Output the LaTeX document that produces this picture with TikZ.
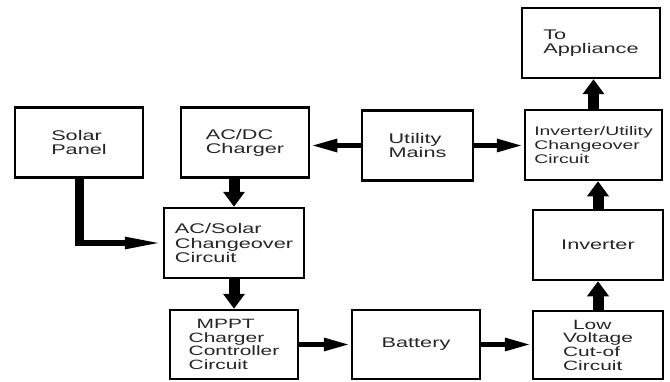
\documentclass[tikz,border=0pt]{standalone}
\usepackage{fontspec}
\setmainfont[FakeStretch=1.55]{Liberation Sans}
\usepackage{tikz}
\usetikzlibrary{arrows.meta,calc}
\tikzset{
  block/.style={
    draw,
    line width=2.5pt,
    inner sep=0pt,
    minimum height=70pt,
    align=left,
    font=\fontsize{14}{14.2}\selectfont,
    text=black!85
  },
  varrow/.style={
    line width=11pt,
    -{Triangle[width=21pt,length=15pt]}
  },
  harrow/.style={
    line width=5.5pt,
    -{Triangle[width=12pt,length=27pt]}
  },
  every picture/.style={
    x=1pt,
    y=1pt
  }
}

\begin{document}
\begin{tikzpicture}
    \useasboundingbox (0,0) rectangle (670,381);
    % top row (y measured from the bottom)
    \node[block, minimum width=128pt] (solar) at (79,238.5) {Solar\\Panel};
    \node[block, minimum width=128pt] (acdc) at (245,238.5) {AC/DC\\Charger};
    \node[block, minimum width=111pt] (mains) at (417.5,235.5) {Utility\\Mains};
    \node[block, minimum width=137pt, font=\fontsize{12.5}{14.2}\selectfont] (invutil) at (593.5,236) {Inverter/Utility\\Changeover\\Circuit};
    \node[block, minimum width=138pt] (appl) at (591,338) {To\\Appliance};
    % middle
    \node[block, minimum width=140pt] (acsolar) at (234,138) {AC/Solar\\Changeover\\Circuit};
    \node[block, minimum width=130pt] (inverter) at (598,136) {Inverter};
    % bottom row
    \node[block, minimum width=128pt, minimum height=69pt, font=\fontsize{13.5}{13.7}\selectfont] (mppt) at (234,36.5) {\hspace*{8pt}MPPT\\Charger\\Controller\\Circuit};
    \node[block, minimum width=128pt, minimum height=69pt] (battery) at (416,36.5) {Battery};
    \node[block, minimum width=130pt, minimum height=68pt, font=\fontsize{13.5}{13.7}\selectfont] (lowv) at (598,36) {\hspace*{10pt}Low\\Voltage\\Cut-of\\Circuit};

    \coordinate (bend) at (solar.south |- acsolar.west);
    \draw[line width=9pt] (solar.south) -- ([yshift=-2.75pt]bend);
    \draw[line width=5.5pt, -{Triangle[width=11pt,length=38pt]}] ([xshift=-4.5pt]bend) -- (acsolar.west);
    \draw[varrow] (acsolar.north |- acdc.south) -- (acsolar.north);
    \draw[harrow] (mains.west) -- (mains.west -| acdc.east);
    \draw[harrow] (mains.east) -- (mains.east -| invutil.west);
    \draw[varrow] (invutil.north) -- (invutil.north |- appl.south);
    \draw[varrow] (acsolar.south) -- (mppt.north);
    \draw[harrow] (mppt.east |- battery.west) -- (battery.west);
    \draw[harrow] (battery.east) -- (battery.east -| lowv.west);
    \draw[varrow] (lowv.north) -- (inverter.south);
    \draw[varrow] (inverter.north) -- (inverter.north |- invutil.south);
\end{tikzpicture}
\end{document}
